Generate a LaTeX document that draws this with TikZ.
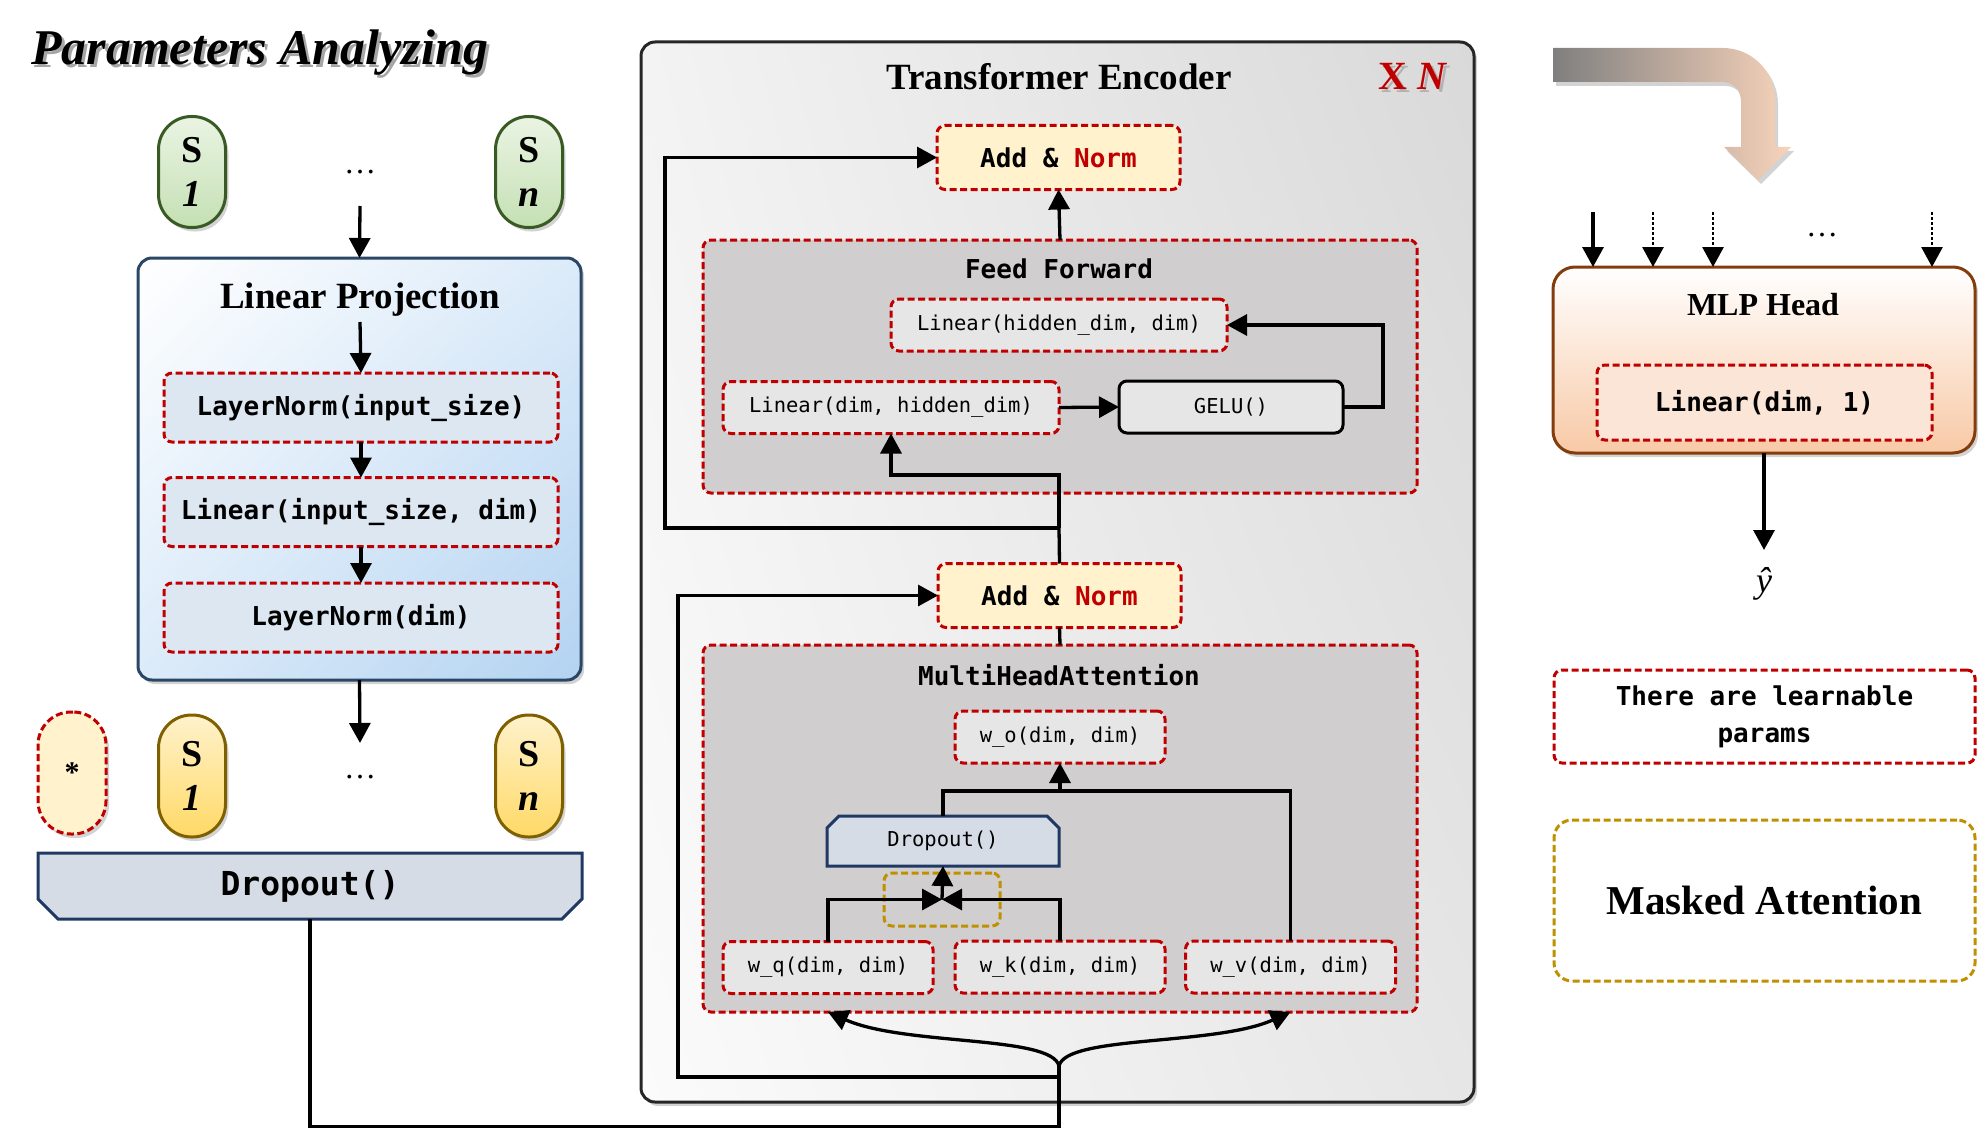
\documentclass[tikz,border=0pt]{standalone}
\usepackage{fontspec}
\setmainfont{Liberation Serif}
\newfontfamily\codefont{DejaVu Sans Mono}
\usetikzlibrary{arrows.meta,shapes.misc,shadows,shadings}

\definecolor{cred}{HTML}{C00000}
\definecolor{cgold}{HTML}{BF9000}
\definecolor{ccream}{HTML}{FFF2CC}
\definecolor{cffgray}{HTML}{D0CECE}
\definecolor{cinner}{HTML}{E7E6E6}
\definecolor{clpin}{HTML}{DDE7F2}
\definecolor{cnavy}{HTML}{1F3864}
\definecolor{cdrop}{HTML}{D6DCE5}
\definecolor{clpborder}{HTML}{2B4766}
\definecolor{clpmid}{HTML}{DCEBF9}
\definecolor{clpdark}{HTML}{B3D3F1}
\definecolor{cgreenb}{HTML}{3A5A24}
\definecolor{cgreent}{HTML}{EAF4E3}
\definecolor{cgreenbot}{HTML}{C5E0B4}
\definecolor{cyelb}{HTML}{7F6000}
\definecolor{cyelbot}{HTML}{FFD966}
\definecolor{cbrown}{HTML}{843C0C}
\definecolor{cpeach}{HTML}{F8C9A6}
\definecolor{cpeachin}{HTML}{FBE5D6}
\definecolor{cgl}{HTML}{7F7F7F}
\definecolor{cgm}{HTML}{DDD8D4}
\definecolor{cpr}{HTML}{F8D3BA}
\definecolor{cteul}{HTML}{F3F3F3}
\definecolor{cteur}{HTML}{D9D9D9}
\definecolor{ctell}{HTML}{FBFBFB}
\definecolor{ctelr}{HTML}{E6E6E6}

\begin{document}
\begin{tikzpicture}[x=1pt,y=-1pt,
  every node/.style={inner sep=0pt, outer sep=0pt},
  arr/.style={line width=3.3pt, -{Triangle[length=20pt,width=21pt]}},
  ln/.style={line width=3.3pt},
  dotarr/.style={line width=2.8pt, dash pattern=on 2.5pt off 2.5pt},
  shad/.style={drop shadow={shadow xshift=3pt, shadow yshift=-4pt, opacity=0.35}},
  rdash/.style={draw=cred, line width=3pt, dash pattern=on 7pt off 3.5pt, rounded corners=8pt},
  gdash/.style={draw=cgold, line width=3pt, dash pattern=on 7pt off 3.5pt, rounded corners=8pt},
  code/.style={font=\codefont\bfseries\fontsize{26}{31}\selectfont},
  smallcode/.style={font=\codefont\fontsize{20.5}{24}\selectfont},
  pillbase/.style={line width=3pt, rounded corners=33pt, minimum width=67pt, align=center, font=\bfseries\fontsize{38}{44}\selectfont, shad},
  pillg/.style={pillbase, draw=cgreenb, top color=cgreent, bottom color=cgreenbot, minimum height=111pt},
  pilly/.style={pillbase, draw=cyelb, top color=ccream, bottom color=cyelbot, minimum height=122pt},
  dotsty/.style={font=\fontsize{32}{32}\selectfont},
  lpin/.style={rdash, fill=clpin, code, minimum width=394pt, minimum height=69pt},
  anbox/.style={rdash, fill=ccream, code, minimum width=243pt, minimum height=64pt},
  grpbox/.style={rdash, fill=cffgray, minimum width=714pt},
  inbox/.style={rdash, fill=cinner, smallcode, minimum width=210pt, minimum height=52pt},
  serifb/.style={font=\bfseries\fontsize{37}{42}\selectfont}
]
\useasboundingbox (0,0) rectangle (1978,1129);

% ---------------- left column ----------------
\node[anchor=base west, text=black!35, font=\bfseries\itshape\fontsize{50}{56}\selectfont] (titles) at (34,68) {Parameters Analyzing};
\node[anchor=base west, font=\bfseries\itshape\fontsize{50}{56}\selectfont] (title) at (31,65) {Parameters Analyzing};

\node[pillg] (g1) at (192,172) {S\\{\itshape 1}};
\node[pillg] (gn) at (529,172) {S\\{\itshape n}};
\node[dotsty] (dt) at (360,172) {…};

\node[draw=clpborder, line width=3pt, rounded corners=14pt, minimum width=443pt, minimum height=422pt,
      upper left=white, upper right=clpmid, lower left=clpmid, lower right=clpdark, shad] (lp) at (359.5,469) {};
\node[anchor=base, serifb] (lpt) at (360,308) {Linear Projection};

\coordinate (a1) at (360,206);
\draw[arr] (a1) -- (lp.north);

\node[lpin] (ln1) at (361,407.5) {LayerNorm(input\_size)};
\node[lpin] (lin1) at (361,512) {Linear(input\_size, dim)};
\node[lpin] (ln2) at (361,617.5) {LayerNorm(dim)};
\coordinate (a2) at (360,322);
\draw[arr] (a2) -- (ln1.north);
\draw[arr] (ln1.south) -- (lin1.north);
\draw[arr] (lin1.south) -- (ln2.north);

\coordinate (a3) at (360,743);
\draw[arr] (lp.south) -- (a3);

\node[rdash, fill=ccream, rounded corners=33pt, minimum width=68pt, minimum height=122pt,
      font=\bfseries\fontsize{30}{30}\selectfont, shad] (st) at (72,773) {\raisebox{-4pt}{*}};
\node[pilly] (y1) at (192,776) {S\\{\itshape 1}};
\node[pilly] (yn) at (529,776) {S\\{\itshape n}};
\node[dotsty] (db) at (360,777) {…};

\node[chamfered rectangle, chamfered rectangle corners={south west,south east},
      chamfered rectangle xsep=10pt, chamfered rectangle ysep=10pt,
      draw=cnavy, fill=cdrop, line width=3pt, minimum width=544pt, minimum height=66pt,
      font=\codefont\bfseries\fontsize{33}{38}\selectfont] (drop) at (310,886) {Dropout()};

% ---------------- transformer encoder ----------------
\node[draw=black!85, line width=3pt, rounded corners=14pt, minimum width=833pt, minimum height=1060pt,
      upper left=cteul, upper right=cteur, lower left=ctell, lower right=ctelr, shad] (te) at (1057.5,572) {};
\node[anchor=base, serifb] (tet) at (1059,90) {Transformer Encoder};
\node[anchor=base, text=black!30, font=\bfseries\fontsize{40}{44}\selectfont] (xns) at (1415,93) {X {\itshape N}};
\node[anchor=base, text=cred, font=\bfseries\fontsize{40}{44}\selectfont] (xn) at (1412,90) {X {\itshape N}};

\node[anbox] (an1) at (1058.5,157.5) {Add \& \textcolor{cred}{Norm}};
\node[grpbox, minimum height=253pt] (ff) at (1060,366.5) {};
\node[code] (fft) at (1059,269) {Feed Forward};
\node[inbox, minimum width=336pt] (lhd) at (1059,325) {Linear(hidden\_dim, dim)};
\node[inbox, minimum width=336pt] (ldh) at (891,407.5) {Linear(dim, hidden\_dim)};
\node[draw=black, line width=3pt, rounded corners=8pt, fill=cinner, smallcode,
      minimum width=224pt, minimum height=52pt] (gelu) at (1231,407) {GELU()};

\node[anbox] (an2) at (1059.5,595.5) {Add \& \textcolor{cred}{Norm}};
\node[grpbox, minimum height=367pt] (mha) at (1060,828.5) {};
\node[code] (mhat) at (1059,675) {MultiHeadAttention};
\node[inbox] (wo) at (1060,737) {w\_o(dim, dim)};
\node[chamfered rectangle, chamfered rectangle corners={north west,north east},
      chamfered rectangle xsep=6pt, chamfered rectangle ysep=6pt,
      draw=cnavy, fill=cdrop, line width=3pt, minimum width=232pt, minimum height=50pt,
      smallcode] (dr2) at (943,841) {Dropout()};
\node[inbox] (wq) at (828,967.5) {w\_q(dim, dim)};
\node[inbox] (wk) at (1060,967) {w\_k(dim, dim)};
\node[inbox] (wv) at (1290.5,967) {w\_v(dim, dim)};
\node[gdash, minimum width=116pt, minimum height=53pt] (mask) at (942,899.5) {};

% connectors in encoder
\draw[arr] (ff.north) -- (an1.south);
\coordinate (j1) at (1059,528);
\draw[ln] (an2.north) -- (j1);
\draw[arr] (j1) -- (665,528) |- (an1.west);
\draw[arr] (j1) -- (1059,475) -| (ldh.south);
\draw[arr] (ldh.east) -- (gelu.west);
\draw[arr] (gelu.east) -- (1383,407) |- (lhd.east);
\draw[ln] (mha.north) -- (an2.south);
\coordinate (j2) at (1060,791);
\draw[ln] (dr2.north) -- (943,791) -| (wv.north);
\draw[arr] (j2) -- (wo.south);
\draw[arr] (wq.north) |- (mask.center);
\draw[arr] (wk.north) |- (mask.center);
\draw[arr] (mask.center) -- (dr2.south);

\coordinate (jb) at (1059,1066);
\coordinate (jl) at (1059,1077);
\draw[arr] (jl) -- (678,1077) |- (an2.west);
\draw[ln] (drop.south) |- (1059,1126.5) -- (jb);
\draw[arr] (jb) .. controls (1052,1035) and (905,1046) .. (wq.north |- mha.south);
\draw[arr] (jb) .. controls (1066,1035) and (1215,1046) .. (wv.north |- mha.south);

% ---------------- right column ----------------
\path[left color=cgl, middle color=cgm, right color=cpr, shad]
  (1553,48) -- (1723,48) .. controls (1751.7,48) and (1775,71.3) .. (1775,100)
  -- (1775,147) -- (1791,147) -- (1758,180) -- (1724,147) -- (1741,147)
  -- (1741,102) .. controls (1741,90.4) and (1733.6,82) .. (1722,82) -- (1553,82) -- cycle;

\node[draw=cbrown, line width=3pt, rounded corners=22pt, minimum width=422pt, minimum height=186pt,
      top color=white, bottom color=cpeach, shad] (mlp) at (1764,360) {};
\node[anchor=base, font=\bfseries\fontsize{32}{36}\selectfont] (mlpt) at (1763,315) {MLP Head};
\node[rdash, fill=cpeachin, code, minimum width=335pt, minimum height=75pt] (l1) at (1764.5,402.5) {Linear(dim, 1)};

\coordinate (i1) at (1593,212);
\coordinate (i2) at (1653,212);
\coordinate (i3) at (1713,212);
\coordinate (i4) at (1932,212);
\draw[arr] (i1) -- (i1 |- mlp.north);
\draw[arr, dotarr] (i2) -- (i2 |- mlp.north);
\draw[arr, dotarr] (i3) -- (i3 |- mlp.north);
\draw[arr, dotarr] (i4) -- (i4 |- mlp.north);
\node[dotsty] (dr) at (1822,235) {…};

\coordinate (yo) at (1764,550);
\draw[arr] (mlp.south) -- (yo);
\node[font=\itshape\fontsize{36}{36}\selectfont] (yh) at (1764,584) {ŷ};

\node[rdash, align=center, minimum width=421pt, minimum height=93pt,
      font=\codefont\bfseries\fontsize{26}{37}\selectfont] (learn) at (1764.5,716.5) {There are learnable\\params};
\node[gdash, rounded corners=18pt, minimum width=421pt, minimum height=161pt,
      font=\bfseries\fontsize{41}{46}\selectfont] (ma) at (1764.5,900.5) {Masked Attention};
\end{tikzpicture}
\end{document}
